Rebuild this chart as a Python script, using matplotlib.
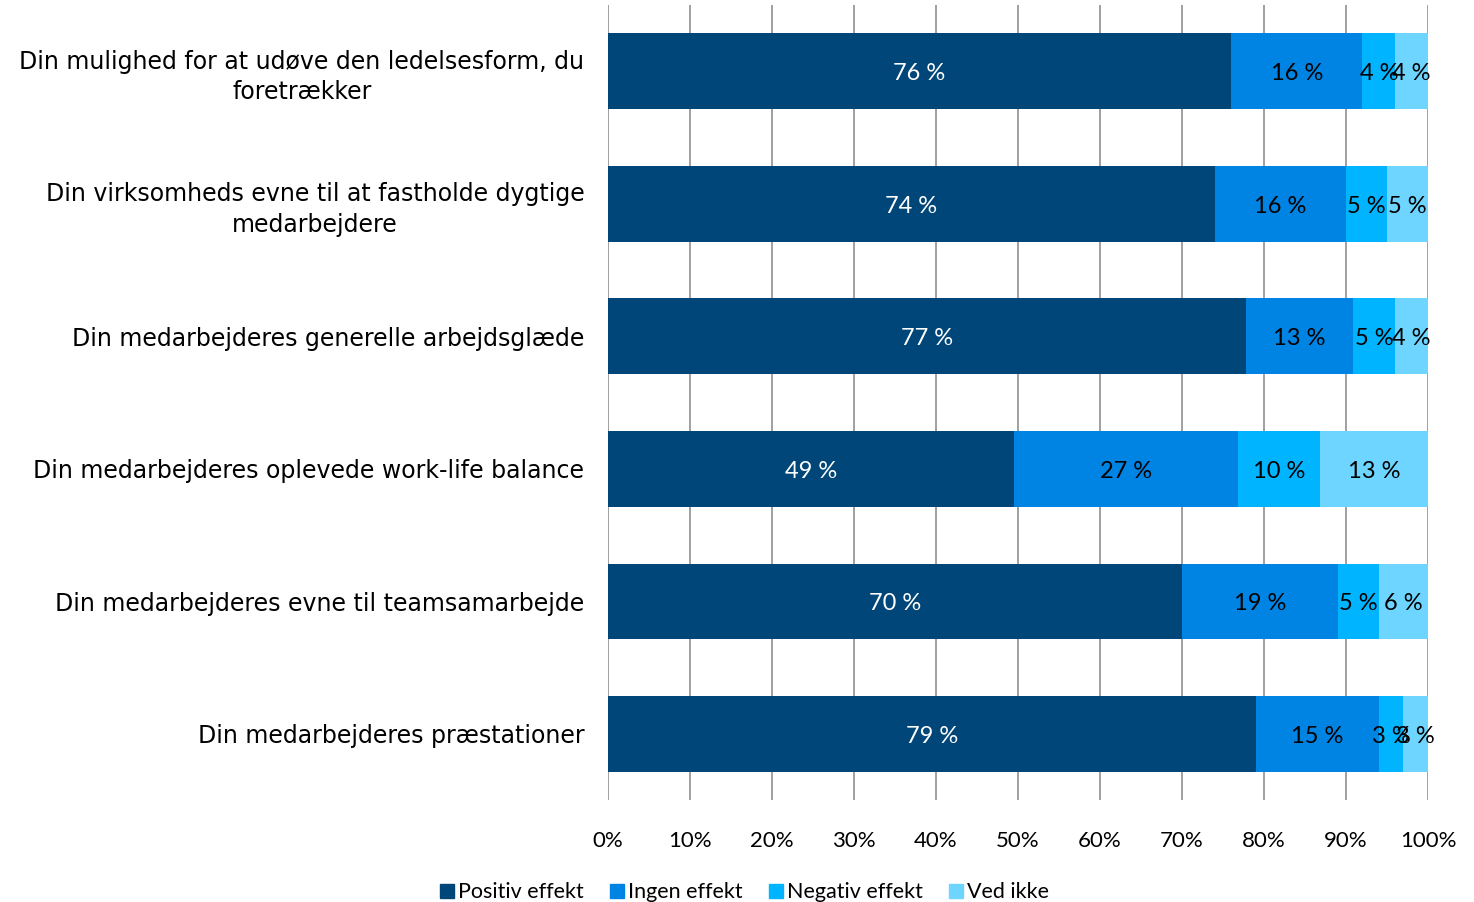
import numpy as np
import matplotlib.pyplot as plt
from matplotlib.patches import Patch

# --- data ---
categories = [
    "Din mulighed for at udøve den ledelsesform, du\nforetrækker",
    "Din virksomheds evne til at fastholde dygtige\nmedarbejdere",
    "Din medarbejderes generelle arbejdsglæde",
    "Din medarbejderes oplevede work-life balance",
    "Din medarbejderes evne til teamsamarbejde",
    "Din medarbejderes præstationer",
]
positiv = [76, 74, 77, 49, 70, 79]
ingen = [16, 16, 13, 27, 19, 15]
negativ = [4, 5, 5, 10, 5, 3]
ved_ikke = [4, 5, 4, 13, 6, 3]
series_names = ["Positiv effekt", "Ingen effekt", "Negativ effekt", "Ved ikke"]
colors = ["#004678", "#0084E4", "#00B4FF", "#6DD5FF"]
text_colors = ["white", "black", "black", "black"]

plt.rcParams['font.family'] = ['Lato', 'DejaVu Sans']

data = np.array([positiv, ingen, negativ, ved_ikke], dtype=float)
# 100% stablet søjle: normaliser hver række
shares = data / data.sum(axis=0) * 100

fig = plt.figure(figsize=(14.74, 9.02), dpi=100)
ax = fig.add_axes([0.4125, 0.113, 0.5563, 0.8815])

y = np.arange(len(categories))
left = np.zeros(len(categories))
for i in range(4):
    ax.barh(y, shares[i], left=left, height=0.57, color=colors[i], zorder=3)
    for j in range(len(categories)):
        ax.text(left[j] + shares[i][j] / 2, y[j] + 0.02, f"{int(data[i][j])} %",
                ha='center', va='center', fontsize=17, color=text_colors[i], zorder=4)
    left += shares[i]

ax.set_xlim(0, 100)
ax.set_ylim(len(categories) - 0.5, -0.5)
ax.set_xticks(np.arange(0, 101, 10))
ax.set_xticklabels([f"{v}%" for v in range(0, 101, 10)], fontsize=16)
ax.set_yticks(y)
ax.set_yticklabels(categories, fontsize=17, family='DejaVu Sans',
                   multialignment='center', linespacing=1.35)
ax.tick_params(axis='y', length=0, pad=17)
ax.tick_params(axis='x', length=0, pad=22)
ax.xaxis.grid(True, color='#999999', linewidth=1.3, zorder=0)
for s in ax.spines.values():
    s.set_visible(False)

handles = [Patch(color=c) for c in colors]
fig.legend(handles, series_names, loc='lower center', bbox_to_anchor=(0.505, -0.022),
           ncol=4, frameon=False, fontsize=15.5, handlelength=0.65, handleheight=0.65,
           handletextpad=0.2, columnspacing=1.2)

fig.savefig("out.png", dpi=100)
